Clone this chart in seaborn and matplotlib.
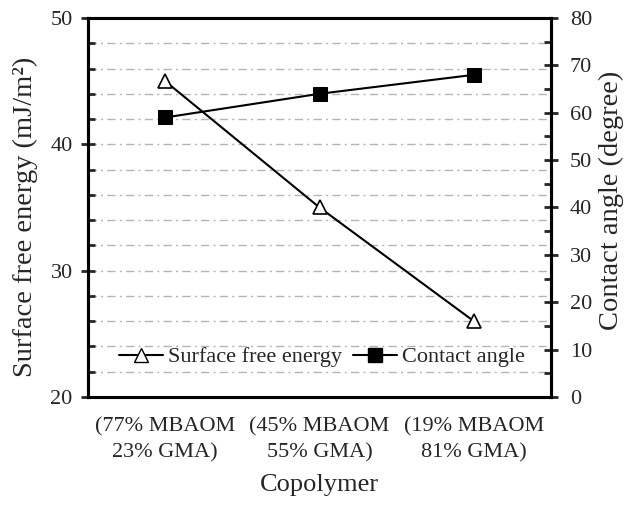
import numpy as np
import pandas as pd
import seaborn as sns
import matplotlib.pyplot as plt
from matplotlib.ticker import MultipleLocator
from matplotlib.lines import Line2D

# data
copolymers = ['(77% MBAOM\n23% GMA)', '(45% MBAOM\n55% GMA)', '(19% MBAOM\n81% GMA)']
surface_energy = [45.0, 35.0, 26.0]
contact_angle = [59.0, 64.0, 68.0]

sns.set_style('white')
plt.rcParams['font.family'] = ['Liberation Serif', 'DejaVu Serif']
plt.rcParams['font.size'] = 16

df = pd.DataFrame({'pos': np.arange(len(copolymers)),
                   'sfe': surface_energy,
                   'ca': contact_angle})

fig = plt.figure(figsize=(6.3, 5.05), dpi=100)
ax = fig.add_axes([0.1397, 0.2139, 0.7349, 0.7505])
ax2 = ax.twinx()

grid_kw = dict(color='#b5b5b5', linewidth=1.0, dashes=(6, 3, 1.5, 3))
for yv in np.arange(22, 51, 2):
    ax.axhline(yv, zorder=0, **grid_kw)

sns.lineplot(data=df, x='pos', y='sfe', ax=ax, color='black', linewidth=1.5,
             marker='^', markersize=10, markerfacecolor='white',
             markeredgecolor='black', markeredgewidth=1.2, zorder=3)
sns.lineplot(data=df, x='pos', y='ca', ax=ax2, color='black', linewidth=1.5,
             marker='s', markersize=10, markerfacecolor='black',
             markeredgecolor='black', zorder=3)

ax.set_xlim(-0.5, len(copolymers) - 0.5)
ax.set_ylim(20, 50)
ax2.set_ylim(0, 80)
ax.set_xticks(df['pos'])
ax.set_xticklabels(copolymers, fontsize=16, linespacing=1.5)
ax.set_xlabel('Copolymer', fontsize=19, labelpad=8)
ax.set_ylabel('Surface free energy (mJ/m²)', fontsize=20.5, labelpad=9, y=0.475)
ax2.set_ylabel('Contact angle (degree)', fontsize=20.5, labelpad=5, y=0.52)

ax.yaxis.set_major_locator(MultipleLocator(10))
ax.yaxis.set_minor_locator(MultipleLocator(2))
ax2.yaxis.set_major_locator(MultipleLocator(10))
ax2.yaxis.set_minor_locator(MultipleLocator(5))

for a in (ax, ax2):
    for s in a.spines.values():
        s.set_linewidth(2.2)
        s.set_color('black')
ax.tick_params(axis='y', which='major', direction='inout', length=10, width=2, labelsize=16, pad=6)
ax.tick_params(axis='y', which='minor', direction='in', length=5, width=2)
ax2.tick_params(axis='y', which='major', direction='inout', length=10, width=2, labelsize=16, pad=8.5)
ax2.tick_params(axis='y', which='minor', direction='in', length=5, width=2)
ax.tick_params(axis='x', which='major', direction='in', length=5, width=2, pad=14.5)
ax2.tick_params(axis='x', which='both', length=0)

handles = [Line2D([], [], color='black', linewidth=1.5, marker='^', markersize=10,
                  markerfacecolor='white', markeredgecolor='black'),
           Line2D([], [], color='black', linewidth=1.5, marker='s', markersize=10,
                  markerfacecolor='black')]
ax2.legend(handles, ['Surface free energy', 'Contact angle'], ncol=2,
           loc='center', bbox_to_anchor=(0.505, 0.105), frameon=False,
           fontsize=16, handlelength=2.0, handletextpad=0.2, columnspacing=0.5)

fig.savefig('out.png', dpi=100)
